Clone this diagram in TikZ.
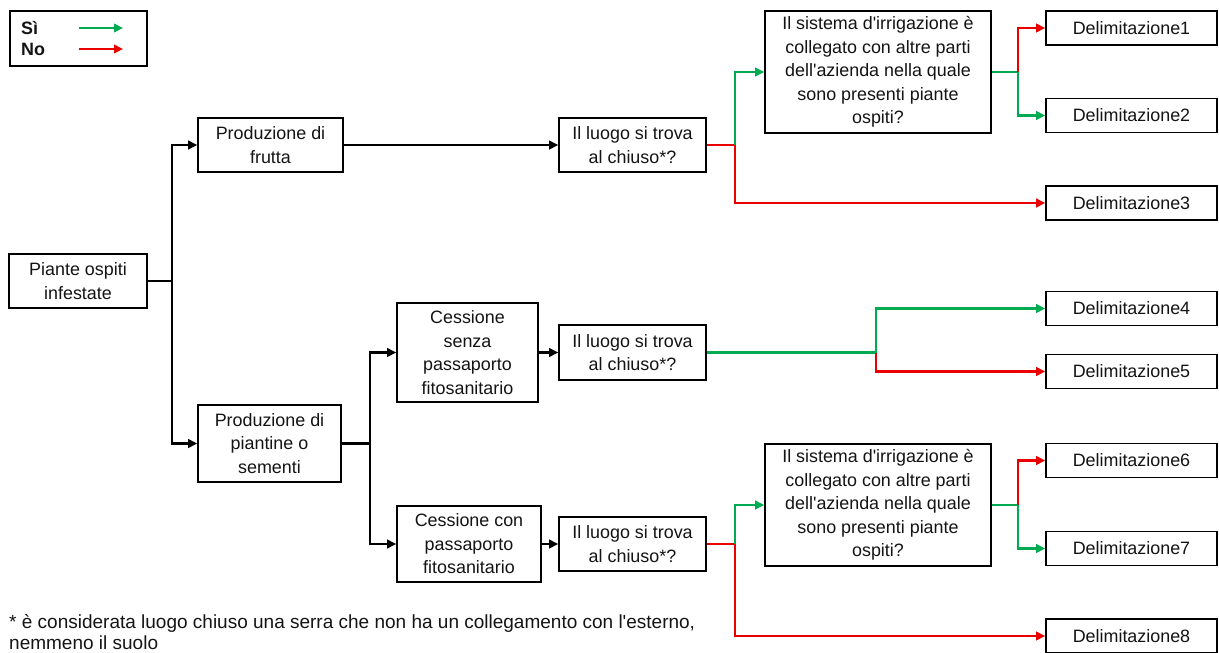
\documentclass[tikz,border=0pt]{standalone}
\usepackage{fontspec}
\setmainfont{Liberation Sans}[Ligatures=TeXOff]
\usetikzlibrary{arrows.meta}
\definecolor{gr}{RGB}{0,170,80}
\definecolor{rd}{RGB}{235,0,0}
\definecolor{tx}{RGB}{20,20,20}
\begin{document}
\begin{tikzpicture}[x=1pt,y=-1pt,
  box/.style={draw=black, line width=1.6pt, fill=white, align=center, inner sep=2pt, text=tx,
    font=\fontsize{17.9}{23.5}\selectfont},
  con/.style={line width=2.3pt},
  arr/.style={con, -{Triangle[length=9pt,width=8.5pt]}},
  blk/.style={black},
  gline/.style={gr},
  rline/.style={rd}]
\useasboundingbox (0,0) rectangle (1219,653);
% legend
\node[draw=black, line width=1.6pt, minimum width=137pt, minimum height=55pt, inner sep=0pt] (leg) at (78.5,38.5) {};
\node[anchor=west, font=\fontsize{17.9}{20}\selectfont\bfseries, text=tx, inner sep=0pt] (si) at (21,28) {Sì};
\node[anchor=west, font=\fontsize{17.9}{20}\selectfont\bfseries, text=tx, inner sep=0pt] (no) at (21,49) {No};
\coordinate (ga) at (79,28); \coordinate (gb) at (123,28);
\coordinate (ra) at (79,49); \coordinate (rb) at (123,49);
\draw[arr, gline] (ga) -- (gb);
\draw[arr, rline] (ra) -- (rb);
% nodes
\node[box, minimum width=138pt, minimum height=54pt] (piante) at (78,281) {Piante ospiti\\infestate};
\node[box, minimum width=145pt, minimum height=54pt] (frutta) at (270.5,145) {Produzione di\\frutta};
\node[box, minimum width=143pt, minimum height=77pt] (piantine) at (269.5,443.5) {Produzione di\\piantine o\\sementi};
\node[box, minimum width=147pt, minimum height=54pt] (l1) at (632.5,145) {Il luogo si trova\\al chiuso*?};
\node[box, minimum width=226pt, minimum height=122pt] (irr1) at (878,72) {Il sistema d'irrigazione è\\collegato con altre parti\\dell'azienda nella quale\\sono presenti piante\\ospiti?};
\node[box, minimum width=171pt, minimum height=34pt] (d1) at (1131.5,28) {Delimitazione1};
\node[box, minimum width=171pt, minimum height=34pt] (d2) at (1131.5,115.5) {Delimitazione2};
\node[box, minimum width=171pt, minimum height=34pt] (d3) at (1131.5,203) {Delimitazione3};
\node[box, minimum width=141pt, minimum height=99pt] (cs) at (467.5,352.5) {Cessione\\senza\\passaporto\\fitosanitario};
\node[box, minimum width=147pt, minimum height=55pt] (l2) at (632.5,352.5) {Il luogo si trova\\al chiuso*?};
\node[box, minimum width=171pt, minimum height=34pt] (d4) at (1131.5,308.5) {Delimitazione4};
\node[box, minimum width=171pt, minimum height=34pt] (d5) at (1131.5,371.5) {Delimitazione5};
\node[box, minimum width=144pt, minimum height=76pt] (cc) at (469,544) {Cessione con\\passaporto\\fitosanitario};
\node[box, minimum width=147pt, minimum height=54pt] (l3) at (632.5,544) {Il luogo si trova\\al chiuso*?};
\node[box, minimum width=226pt, minimum height=122pt] (irr2) at (878,505) {Il sistema d'irrigazione è\\collegato con altre parti\\dell'azienda nella quale\\sono presenti piante\\ospiti?};
\node[box, minimum width=171pt, minimum height=34pt] (d6) at (1131.5,460.5) {Delimitazione6};
\node[box, minimum width=171pt, minimum height=34pt] (d7) at (1131.5,548.5) {Delimitazione7};
\node[box, minimum width=171pt, minimum height=34pt] (d8) at (1131.5,636) {Delimitazione8};
% footnote
\node[anchor=north west, align=left, inner sep=0pt, text=tx, font=\fontsize{19}{21}\selectfont] (fn) at (9,614) {* è considerata luogo chiuso una serra che non ha un collegamento con l'esterno,\\nemmeno il suolo};
% junctions
\coordinate (j1) at (172,281);
\coordinate (j2) at (370,443.5);
\coordinate (s1) at (735,145);
\coordinate (t1) at (1018,72);
\coordinate (s2) at (876,352.5);
\coordinate (s3) at (735,544);
\coordinate (t2) at (1018,505);
% black connectors
\draw[con, blk] (piante.east) -- (j1);
\draw[arr, blk] (j1) |- (frutta.west);
\draw[arr, blk] (j1) |- (piantine.west);
\draw[arr, blk] (frutta.east) -- (l1.west);
\draw[con, blk] (piantine.east) -- (j2);
\draw[arr, blk] (j2) |- (cs.west);
\draw[arr, blk] (j2) |- (cc.west);
\draw[arr, blk] (cs.east) -- (l2.west);
\draw[arr, blk] (cc.east) -- (l3.west);
% branch 1
\draw[con, rline] (l1.east) -- (s1);
\draw[arr, gline] (s1) |- (irr1.west);
\draw[arr, rline] (s1) |- (d3.west);
\draw[con, gline] (irr1.east) -- (t1);
\draw[arr, rline] (t1) |- (d1.west);
\draw[arr, gline] (t1) |- (d2.west);
% branch 2
\draw[con, gline] (l2.east) -- (s2);
\draw[arr, gline] (s2) |- (d4.west);
\draw[arr, rline] (s2) |- (d5.west);
% branch 3
\draw[con, rline] (l3.east) -- (s3);
\draw[arr, gline] (s3) |- (irr2.west);
\draw[arr, rline] (s3) |- (d8.west);
\draw[con, gline] (irr2.east) -- (t2);
\draw[arr, rline] (t2) |- (d6.west);
\draw[arr, gline] (t2) |- (d7.west);
\end{tikzpicture}
\end{document}
